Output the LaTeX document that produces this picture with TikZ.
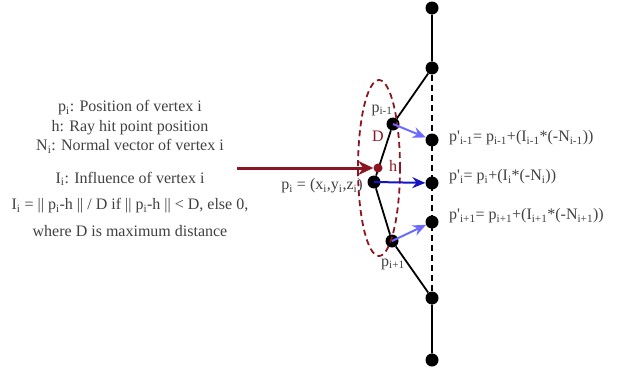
\documentclass[tikz,border=0pt]{standalone}
\usepackage{fontspec}
\setmainfont{Liberation Serif}
\usetikzlibrary{arrows.meta}
\definecolor{hitred}{HTML}{8B1520}
\definecolor{lightblue}{HTML}{6B6BFF}
\definecolor{darkblue}{HTML}{1414C0}
\definecolor{txtgray}{HTML}{404040}
\tikzset{
  every picture/.style={line join=round, >=Stealth},
  vertex/.style={circle, fill=black, inner sep=0pt, minimum size=13pt},
  lbl/.style={text=txtgray, inner sep=1pt, font=\fontsize{16}{19.5}\selectfont},
  shift arrow/.style={line width=2pt, -{Stealth[length=13pt,width=11pt]}},
}
\newcommand{\pr}{\textquotesingle}
\begin{document}
\begin{tikzpicture}[x=1pt,y=-1pt]
\useasboundingbox (0,0) rectangle (619,372);
% vertices on the straight column
\foreach \n/\y in {t1/8,t2/68,q1/140,q0/183,q2/222,b2/298,b1/360}
  \node[vertex] (\n) at (432,\y) {};
% bent vertices
\node[vertex] (pm) at (393,124) {};
\node[vertex] (p0) at (374,182) {};
\node[vertex] (pp) at (392,241) {};
\draw[line width=1.8pt] (t1)--(t2)--(pm)--(p0)--(pp)--(b2)--(b1);
\draw[line width=1.8pt, dash pattern=on 6pt off 4pt] (t2)--(b2);
\draw[hitred, line width=1.8pt, dash pattern=on 6pt off 4pt] (379,168) ellipse [x radius=21pt, y radius=88pt];
% ray
\coordinate (src) at (237,168);
\node[circle, fill=hitred, inner sep=0pt, minimum size=9pt] (h) at (378,168) {};
\draw[hitred, line width=3pt, -{Stealth[length=15pt,width=14pt]}] (src) -- (h);
% displacements
\draw[lightblue, shift arrow] (pm.center) -- (q1);
\draw[darkblue, shift arrow] (p0.center) -- (q0);
\draw[lightblue, shift arrow] (pp.center) -- (q2);
% labels
\node[lbl] (lpm) at (382,110) {p\textsubscript{i-1}};
\node[lbl, text=hitred] (ld) at (378,136) {D};
\node[lbl, text=hitred] (lh) at (393,166) {h};
\node[lbl] (lp0) at (322,186) {p\textsubscript{i} = (x\textsubscript{i},y\textsubscript{i},z\textsubscript{i})};
\node[lbl] (lpp) at (393,264) {p\textsubscript{i+1}};
\node[lbl, anchor=west] (eq1) at (448,138) {p\pr\textsubscript{i-1}= p\textsubscript{i-1}+(I\textsubscript{i-1}*(-N\textsubscript{i-1}))};
\node[lbl, anchor=west] (eq0) at (448,177) {p\pr\textsubscript{i}= p\textsubscript{i}+(I\textsubscript{i}*(-N\textsubscript{i}))};
\node[lbl, anchor=west] (eq2) at (448,216) {p\pr\textsubscript{i+1}= p\textsubscript{i+1}+(I\textsubscript{i+1}*(-N\textsubscript{i+1}))};
\node[lbl, align=center] (legend) at (130,127) {p\textsubscript{i}: Position of vertex i\\h: Ray hit point position\\N\textsubscript{i}: Normal vector of vertex i};
\node[lbl, align=center] (infl) at (130,204) {I\textsubscript{i}: Influence of vertex i\\[7pt]I\textsubscript{i} = || p\textsubscript{i}-h || / D if || p\textsubscript{i}-h || {\textless} D, else 0,\\[7pt]where D is maximum distance};
\end{tikzpicture}
\end{document}
